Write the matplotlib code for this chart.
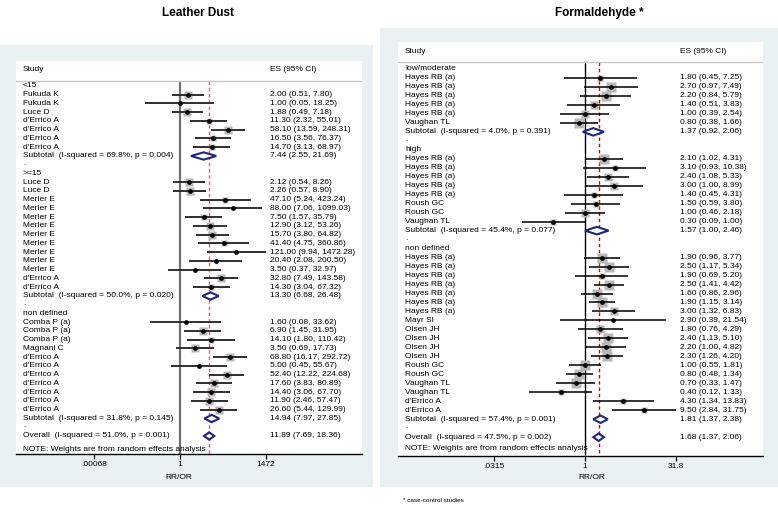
import numpy as np
import matplotlib
matplotlib.use('Agg')
import matplotlib.pyplot as plt
from matplotlib.patches import Rectangle
from matplotlib import transforms
from matplotlib.ticker import NullLocator

plt.rcParams['font.family'] = ['Liberation Sans', 'DejaVu Sans']

W, H = 778, 507

# ---------------- Leather Dust ----------------
ld_groups = ['<15', '>=15', 'non defined']
ld_group_n = [7, 13, 11]
ld_study = ['Fukuda K', 'Fukuda K', 'Luce D', "d'Errico A", "d'Errico A", "d'Errico A", "d'Errico A",
            'Luce D', 'Luce D', 'Merler E', 'Merler E', 'Merler E', 'Merler E', 'Merler E', 'Merler E',
            'Merler E', 'Merler E', 'Merler E', "d'Errico A", "d'Errico A",
            'Comba P (a)', 'Comba P (a)', 'Comba P (a)', 'Magnani C', "d'Errico A", "d'Errico A",
            "d'Errico A", "d'Errico A", "d'Errico A", "d'Errico A", "d'Errico A"]
ld_es = [2.00, 1.00, 1.88, 11.30, 58.10, 16.50, 14.70,
         2.12, 2.26, 47.10, 88.00, 7.50, 12.90, 15.70, 41.40, 121.00, 20.40, 3.50, 32.80, 14.30,
         1.60, 6.90, 14.10, 3.50, 68.80, 5.00, 52.40, 17.60, 14.40, 11.90, 26.60]
ld_lo = [0.51, 0.05, 0.49, 2.32, 13.59, 3.56, 3.13,
         0.54, 0.57, 5.24, 7.06, 1.57, 3.12, 3.80, 4.75, 9.94, 2.08, 0.37, 7.49, 3.04,
         0.08, 1.45, 1.80, 0.69, 16.17, 0.45, 12.22, 3.83, 3.06, 2.46, 5.44]
ld_hi = [7.80, 18.25, 7.18, 55.01, 248.31, 76.37, 68.97,
         8.26, 8.90, 423.24, 1099.03, 35.79, 53.26, 64.82, 360.86, 1472.28, 200.50, 32.97, 143.58, 67.32,
         33.62, 31.95, 110.42, 17.73, 292.72, 55.67, 224.68, 80.89, 67.70, 57.47, 129.99]
ld_wt = [3.1, 0.4, 3.1, 2.2, 3.1, 2.2, 2.2,
         3.4, 3.4, 1.4, 1.0, 2.2, 2.5, 2.5, 1.4, 0.4, 1.1, 0.7, 2.5, 2.2,
         0.3, 3.1, 1.4, 3.1, 3.1, 0.6, 3.1, 3.1, 3.1, 3.1, 3.1]
ld_sub_es = [7.44, 13.30, 14.94]
ld_sub_lo = [2.55, 6.68, 7.97]
ld_sub_hi = [21.69, 26.48, 27.85]
ld_sub_i2 = [69.8, 50.0, 31.8]
ld_sub_p = [0.004, 0.020, 0.145]
ld_overall = [11.89, 7.69, 18.36]
ld_overall_i2 = 51.0
ld_overall_p = 0.001
ld_ticks = [0.00068, 1, 1472]
ld_ticklabels = ['.00068', '1', '1472']

# ---------------- Formaldehyde ----------------
fa_groups = ['low/moderate', 'high', 'non defined']
fa_group_n = [6, 8, 18]
fa_study = ['Hayes RB (a)'] * 5 + ['Vaughan TL'] + \
           ['Hayes RB (a)'] * 5 + ['Roush GC', 'Roush GC', 'Vaughan TL'] + \
           ['Hayes RB (a)'] * 7 + ['Mayr SI'] + ['Olsen JH'] * 4 + ['Roush GC', 'Roush GC',
           'Vaughan TL', 'Vaughan TL', "d'Errico A", "d'Errico A"]
fa_es = [1.80, 2.70, 2.20, 1.40, 1.00, 0.80,
         2.10, 3.10, 2.40, 3.00, 1.40, 1.50, 1.00, 0.30,
         1.90, 2.50, 1.90, 2.50, 1.60, 1.90, 3.00, 2.90, 1.80, 2.40, 2.20, 2.30, 1.00, 0.80,
         0.70, 0.40, 4.30, 9.50]
fa_lo = [0.45, 0.97, 0.84, 0.51, 0.39, 0.38,
         1.02, 0.93, 1.08, 1.00, 0.45, 0.59, 0.46, 0.09,
         0.96, 1.17, 0.69, 1.41, 0.86, 1.15, 1.32, 0.39, 0.76, 1.13, 1.00, 1.26, 0.55, 0.48,
         0.33, 0.12, 1.34, 2.84]
fa_hi = [7.25, 7.49, 5.79, 3.83, 2.54, 1.66,
         4.31, 10.38, 5.33, 8.99, 4.31, 3.80, 2.18, 1.00,
         3.77, 5.34, 5.20, 4.42, 2.96, 3.14, 6.83, 21.54, 4.29, 5.10, 4.82, 4.20, 1.81, 1.34,
         1.47, 1.33, 13.83, 31.75]
fa_wt = [2.2, 4.2, 4.2, 3.1, 3.1, 4.2,
         4.2, 2.2, 3.1, 3.1, 2.2, 2.2, 3.1, 1.4,
         4.2, 4.2, 2.2, 4.2, 4.2, 4.2, 3.1, 0.4, 3.1, 4.2, 4.2, 4.2, 4.2, 4.2,
         4.2, 2.2, 2.2, 2.2]
fa_sub_es = [1.37, 1.57, 1.81]
fa_sub_lo = [0.92, 1.00, 1.37]
fa_sub_hi = [2.06, 2.46, 2.38]
fa_sub_i2 = [4.0, 45.4, 57.4]
fa_sub_p = [0.391, 0.077, 0.001]
fa_overall = [1.68, 1.37, 2.06]
fa_overall_i2 = 47.5
fa_overall_p = 0.002
fa_ticks = [0.0315, 1, 31.8]
fa_ticklabels = ['.0315', '1', '31.8']

FS = 6.0
BG = '#e9f1f3'


def px_rect(x0, y0, x1, y1):
    return [x0 / W, 1 - y1 / H, (x1 - x0) / W, (y1 - y0) / H]


def ci_text(e, l, h):
    return f"{e:.2f} ({l:.2f}, {h:.2f})"


def forest(ax, study, es, lo, hi, wt, groups, group_n, sub_es, sub_lo, sub_hi, sub_i2, sub_p,
           overall, ov_i2, ov_p, x_study, x_es, head_row, sep_row, note_row, ylim,
           line_c, line_w, null_c, null_w, dash_c):
    tr = transforms.blended_transform_factory(ax.transAxes, ax.transData)
    ax.set_xscale('log')
    ax.set_ylim(*ylim)
    bottom = ylim[0]

    ax.text(x_study, head_row, 'Study', transform=tr, fontsize=FS, va='center')
    ax.text(x_es, head_row, 'ES (95% CI)', transform=tr, fontsize=FS, va='center')
    ax.axhline(sep_row, color='#c8c8c8', lw=1.0)

    ax.vlines(1, sep_row, bottom, color=null_c, lw=null_w, zorder=1)
    ax.vlines(overall[0], sep_row, bottom, color=dash_c, lw=1.0, linestyles=(0, (2.5, 2)), zorder=1)

    r = 0
    k = 0
    for g in range(len(groups)):
        ax.text(x_study, r, groups[g], transform=tr, fontsize=FS, va='center')
        r += 1
        for i in range(group_n[g]):
            ax.plot(es[k], r, 's', ms=3.3 * np.sqrt(wt[k]), color='#b8b8b8', mec='none', zorder=2)
            ax.plot([lo[k], hi[k]], [r, r], color=line_c, lw=line_w, zorder=3, solid_capstyle='butt')
            ax.plot(es[k], r, 'o', ms=2.4, color='black', zorder=4)
            ax.text(x_study, r, study[k], transform=tr, fontsize=FS, va='center')
            ax.text(x_es, r, ci_text(es[k], lo[k], hi[k]), transform=tr, fontsize=FS, va='center')
            r += 1
            k += 1
        ax.fill([sub_lo[g], sub_es[g], sub_hi[g], sub_es[g]], [r, r - 0.42, r, r + 0.42],
                facecolor='white', edgecolor='#1c2580', lw=1.5, zorder=5)
        ax.text(x_study, r, f"Subtotal  (I-squared = {sub_i2[g]:.1f}%, p = {sub_p[g]:.3f})",
                transform=tr, fontsize=FS, va='center')
        ax.text(x_es, r, ci_text(sub_es[g], sub_lo[g], sub_hi[g]), transform=tr, fontsize=FS, va='center')
        r += 1
        ax.text(x_study, r - 0.15, '.', transform=tr, fontsize=FS, va='center')
        r += 1
    # overall row follows the last blank row
    ax.fill([overall[1], overall[0], overall[2], overall[0]], [r, r - 0.42, r, r + 0.42],
            facecolor='white', edgecolor='#1c2580', lw=1.5, zorder=5)
    ax.text(x_study, r, f"Overall  (I-squared = {ov_i2:.1f}%, p = {ov_p:.3f})",
            transform=tr, fontsize=FS, va='center')
    ax.text(x_es, r, ci_text(*overall), transform=tr, fontsize=FS, va='center')
    ax.text(x_study, note_row, 'NOTE: Weights are from random effects analysis',
            transform=tr, fontsize=FS, va='center')

    ax.set_yticks([])
    for s in ['top', 'left', 'right']:
        ax.spines[s].set_visible(False)
    ax.spines['bottom'].set_linewidth(1.0)
    ax.xaxis.set_minor_locator(NullLocator())
    ax.tick_params(axis='x', length=3.6, width=0.9, labelsize=FS, pad=2)


fig = plt.figure(figsize=(W / 100, H / 100), dpi=100)

# graph region backgrounds
fig.add_artist(Rectangle((0, 1 - 487 / H), 373 / W, (487 - 45) / H, transform=fig.transFigure,
                         facecolor=BG, edgecolor='none', zorder=-5))
fig.add_artist(Rectangle((380 / W, 1 - 487 / H), (778 - 380) / W, (487 - 28) / H, transform=fig.transFigure,
                         facecolor=BG, edgecolor='none', zorder=-5))

# left panel: row r sits at 86 + 8.75 r px
ax1 = fig.add_axes(px_rect(16, 60.7, 361.7, 453.5))
ax1.set_facecolor('white')
forest(ax1, ld_study, ld_es, ld_lo, ld_hi, ld_wt, ld_groups, ld_group_n,
       ld_sub_es, ld_sub_lo, ld_sub_hi, ld_sub_i2, ld_sub_p,
       ld_overall, ld_overall_i2, ld_overall_p,
       x_study=0.020, x_es=0.735, head_row=-1.83, sep_row=-0.61, note_row=41.6,
       ylim=(42.0, -2.89), line_c='#303030', line_w=1.4, null_c='#707070', null_w=1.6, dash_c='#c07070')
ax1.set_xlim(10 ** -6.06, 10 ** 6.71)
ax1.set_xticks(ld_ticks)
ax1.set_xticklabels(ld_ticklabels)
ax1.text(0.471, -0.061, 'RR/OR', transform=ax1.transAxes, fontsize=FS, ha='center', va='center')

# right panel: row r sits at 69 + 8.98 r px
ax2 = fig.add_axes(px_rect(398, 41.7, 763, 455.5))
ax2.set_facecolor('white')
forest(ax2, fa_study, fa_es, fa_lo, fa_hi, fa_wt, fa_groups, fa_group_n,
       fa_sub_es, fa_sub_lo, fa_sub_hi, fa_sub_i2, fa_sub_p,
       fa_overall, fa_overall_i2, fa_overall_p,
       x_study=0.019, x_es=0.773, head_row=-2.0, sep_row=-0.81, note_row=42.3,
       ylim=(43.04, -3.04), line_c='black', line_w=1.1, null_c='black', null_w=1.0, dash_c='#a01515')
ax2.set_xlim(10 ** -3.096, 10 ** 2.947)
ax2.set_xticks(fa_ticks)
ax2.set_xticklabels(fa_ticklabels)
ax2.text(0.53, -0.052, 'RR/OR', transform=ax2.transAxes, fontsize=FS, ha='center', va='center')

fig.text(198 / W, 1 - 13 / H, 'Leather Dust', fontsize=8.5, fontweight='bold', ha='center', va='center')
fig.text(599 / W, 1 - 13 / H, 'Formaldehyde *', fontsize=8.5, fontweight='bold', ha='center', va='center')
fig.text(403 / W, 1 - 500 / H, '* case-control studies', fontsize=4.6, ha='left', va='center')

fig.savefig('out.png', dpi=100)
